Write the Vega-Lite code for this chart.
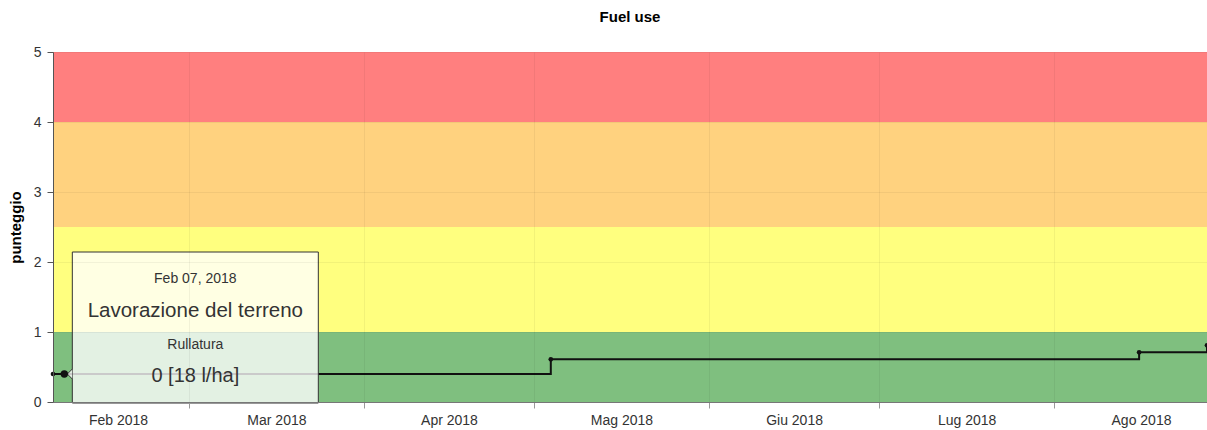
{
  "$schema": "https://vega.github.io/schema/vega-lite/v6.json",
  "width": 1154,
  "height": 350,
  "autosize": {"type": "none"},
  "padding": {"left": 53, "top": 52, "right": 0, "bottom": 28},
  "background": "white",
  "config": {
    "view": {"stroke": null},
    "font": "Liberation Sans"
  },
  "title": {
    "text": "Fuel use",
    "fontSize": 15,
    "fontWeight": "bold",
    "color": "#000",
    "font": "Liberation Sans",
    "offset": 20,
    "anchor": "middle",
    "frame": "group"
  },
  "datasets": {
    "bands": [
      {"y0": 0, "y1": 1, "level": "verde"},
      {"y0": 1, "y1": 2.5, "level": "giallo"},
      {"y0": 2.5, "y1": 4, "level": "arancione"},
      {"y0": 4, "y1": 5, "level": "rosso"}
    ],
    "scores": [
      {"date": "2018-02-05", "value": 0.4},
      {"date": "2018-02-07", "value": 0.4},
      {"date": "2018-05-04", "value": 0.61},
      {"date": "2018-08-16", "value": 0.71},
      {"date": "2018-08-28", "value": 0.81}
    ],
    "tip": [
      {"date": "2018-02-07", "value": 0.4, "header": "Feb 07, 2018", "operation": "Lavorazione del terreno", "detail": "Rullatura", "score": "0 [18 l/ha]"}
    ]
  },
  "layer": [
    {
      "data": {"name": "bands"},
      "mark": {"type": "rect"},
      "encoding": {
        "y": {
          "field": "y0", "type": "quantitative",
          "scale": {"domain": [0, 5], "nice": false, "zero": true},
          "axis": {
            "title": "punteggio",
            "values": [0, 1, 2, 3, 4, 5],
            "grid": true, "gridColor": "#000", "gridOpacity": 0.05,
            "domain": true, "domainColor": "#555", "domainWidth": 1,
            "ticks": true, "tickColor": "#555", "tickSize": 6,
            "labelPadding": 6, "labelFontSize": 14, "labelColor": "#333", "labelFont": "Liberation Sans",
            "titleFontSize": 15, "titleFontWeight": "bold", "titleColor": "#000", "titleFont": "Liberation Sans",
            "titlePadding": 10,
            "zindex": 1
          }
        },
        "y2": {"field": "y1"},
        "color": {
          "field": "level", "type": "nominal",
          "scale": {"domain": ["verde", "giallo", "arancione", "rosso"], "range": ["#7fbf7f", "#ffff7f", "#ffd27f", "#ff7f7f"]},
          "legend": null
        }
      }
    },
    {
      "data": {"name": "scores"},
      "mark": {"type": "line", "interpolate": "step-after", "color": "#111", "strokeWidth": 2},
      "encoding": {
        "x": {
          "field": "date", "type": "temporal",
          "scale": {"type": "utc", "domain": [{"year": 2018, "month": 2, "date": 5, "utc": true}, {"year": 2018, "month": 8, "date": 28, "utc": true}]},
          "axis": {
            "title": null,
            "values": [
              {"year": 2018, "month": 2, "date": 16, "hours": 12, "utc": true},
              {"year": 2018, "month": 3, "date": 16, "hours": 12, "utc": true},
              {"year": 2018, "month": 4, "date": 16, "utc": true},
              {"year": 2018, "month": 5, "date": 16, "hours": 12, "utc": true},
              {"year": 2018, "month": 6, "date": 16, "utc": true},
              {"year": 2018, "month": 7, "date": 16, "hours": 12, "utc": true},
              {"year": 2018, "month": 8, "date": 16, "hours": 8, "utc": true}
            ],
            "labelExpr": "['Gen','Feb','Mar','Apr','Mag','Giu','Lug','Ago','Set','Ott','Nov','Dic'][utcmonth(datum.value)] + ' ' + utcyear(datum.value)",
            "grid": false, "ticks": false, "tickSize": 0, "domain": false,
            "labelPadding": 11, "labelFontSize": 14, "labelColor": "#333", "labelFont": "Liberation Sans",
            "labelOverlap": false, "labelFlush": false,
            "orient": "bottom"
          }
        },
        "y": {"field": "value", "type": "quantitative", "axis": null}
      }
    },
    {
      "data": {"name": "scores"},
      "mark": {"type": "point", "filled": true, "size": 22, "color": "#111", "opacity": 1},
      "encoding": {
        "x": {
          "field": "date", "type": "temporal",
          "scale": {"type": "utc", "domain": [{"year": 2018, "month": 2, "date": 5, "utc": true}, {"year": 2018, "month": 8, "date": 28, "utc": true}]},
          "axis": {
            "title": null,
            "values": [
              {"year": 2018, "month": 3, "date": 1, "utc": true},
              {"year": 2018, "month": 4, "date": 1, "utc": true},
              {"year": 2018, "month": 5, "date": 1, "utc": true},
              {"year": 2018, "month": 6, "date": 1, "utc": true},
              {"year": 2018, "month": 7, "date": 1, "utc": true},
              {"year": 2018, "month": 8, "date": 1, "utc": true}
            ],
            "labels": false,
            "grid": true, "gridColor": "#000", "gridOpacity": 0.05,
            "ticks": true, "tickSize": 6, "tickColor": "#999",
            "domain": true, "domainColor": "#777",
            "orient": "bottom",
            "zindex": 1
          }
        },
        "y": {"field": "value", "type": "quantitative", "axis": null}
      }
    },
    {
      "data": {"name": "tip"},
      "mark": {"type": "rect", "fill": "#ffffff", "fillOpacity": 0.78, "stroke": "#333", "strokeWidth": 1, "xOffset": 8, "x2Offset": 254, "yOffset": -122, "y2Offset": 29},
      "encoding": {
        "x": {"field": "date", "type": "temporal", "axis": null},
        "x2": {"field": "date"},
        "y": {"field": "value", "type": "quantitative", "axis": null},
        "y2": {"field": "value"}
      }
    },
    {
      "data": {"name": "tip"},
      "mark": {"type": "point", "shape": "M 0.5 -1 L -0.5 0 L 0.5 1 Z", "size": 100, "xOffset": 5.5, "filled": true, "fill": "#ffffff", "fillOpacity": 0.78, "strokeOpacity": 0, "opacity": 1},
      "encoding": {
        "x": {"field": "date", "type": "temporal", "axis": null},
        "y": {"field": "value", "type": "quantitative", "axis": null}
      }
    },
    {
      "data": {"name": "tip"},
      "mark": {"type": "point", "shape": "M 0.5 -1 L -0.5 0 L 0.5 1", "size": 100, "xOffset": 5.5, "filled": false, "stroke": "#333", "strokeWidth": 1, "opacity": 1},
      "encoding": {
        "x": {"field": "date", "type": "temporal", "axis": null},
        "y": {"field": "value", "type": "quantitative", "axis": null}
      }
    },
    {
      "data": {"name": "tip"},
      "mark": {"type": "point", "filled": true, "size": 55, "color": "#111", "opacity": 1},
      "encoding": {
        "x": {"field": "date", "type": "temporal", "axis": null},
        "y": {"field": "value", "type": "quantitative", "axis": null}
      }
    },
    {
      "data": {"name": "tip"},
      "mark": {"type": "text", "dx": 131, "dy": -95, "fontSize": 14, "color": "#333", "align": "center", "baseline": "middle", "font": "Liberation Sans"},
      "encoding": {
        "x": {"field": "date", "type": "temporal", "axis": null},
        "y": {"field": "value", "type": "quantitative", "axis": null},
        "text": {"field": "header"}
      }
    },
    {
      "data": {"name": "tip"},
      "mark": {"type": "text", "dx": 131, "dy": -63, "fontSize": 20.5, "color": "#333", "align": "center", "baseline": "middle", "font": "Liberation Sans"},
      "encoding": {
        "x": {"field": "date", "type": "temporal", "axis": null},
        "y": {"field": "value", "type": "quantitative", "axis": null},
        "text": {"field": "operation"}
      }
    },
    {
      "data": {"name": "tip"},
      "mark": {"type": "text", "dx": 131, "dy": -29, "fontSize": 14, "color": "#333", "align": "center", "baseline": "middle", "font": "Liberation Sans"},
      "encoding": {
        "x": {"field": "date", "type": "temporal", "axis": null},
        "y": {"field": "value", "type": "quantitative", "axis": null},
        "text": {"field": "detail"}
      }
    },
    {
      "data": {"name": "tip"},
      "mark": {"type": "text", "dx": 131, "dy": 2, "fontSize": 20, "color": "#333", "align": "center", "baseline": "middle", "font": "Liberation Sans"},
      "encoding": {
        "x": {"field": "date", "type": "temporal", "axis": null},
        "y": {"field": "value", "type": "quantitative", "axis": null},
        "text": {"field": "score"}
      }
    }
  ],
  "resolve": {"axis": {"x": "independent", "y": "independent"}}
}
